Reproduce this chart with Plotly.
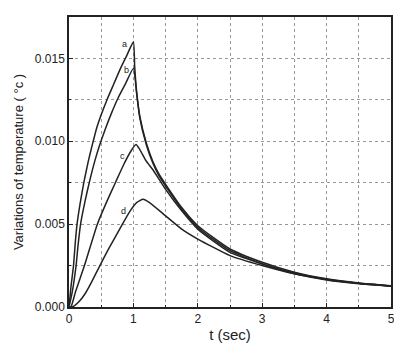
import plotly.graph_objects as go

# Curve a
t_a = [0, 0.03, 0.07, 0.10, 0.125, 0.175, 0.23, 0.30, 0.35, 0.43, 0.50, 0.60, 0.70, 0.80, 0.90, 1.00,
       1.02, 1.05, 1.10, 1.20, 1.30, 1.40, 1.50, 1.75, 2.00, 2.50, 3.00, 3.50, 4.00, 4.50, 5.00]
v_a = [0, 0.0012, 0.0025, 0.0040, 0.0050, 0.0063, 0.0075, 0.0088, 0.0096, 0.0108, 0.0116, 0.0126, 0.0135, 0.0144, 0.0152, 0.0160,
       0.0145, 0.0130, 0.0115, 0.0099, 0.0088, 0.0080, 0.0074, 0.0060, 0.0049, 0.0035, 0.0027, 0.0021, 0.0017, 0.00145, 0.00128]

# Curve b
t_b = [0, 0.05, 0.11, 0.14, 0.18, 0.25, 0.32, 0.40, 0.47, 0.56, 0.66, 0.76, 0.88, 1.00,
       1.05, 1.10, 1.20, 1.30, 1.40, 1.50, 1.75, 2.00, 2.50, 3.00, 3.50, 4.00, 4.50, 5.00]
v_b = [0, 0.0009, 0.0025, 0.0037, 0.0050, 0.0064, 0.0076, 0.0088, 0.0097, 0.0107, 0.0117, 0.0126, 0.0135, 0.0144,
       0.0129, 0.0114, 0.0098, 0.0087, 0.0079, 0.0073, 0.0059, 0.0048, 0.0034, 0.0026, 0.00205, 0.00168, 0.00144, 0.00127]

# Curve c
t_c = [0, 0.03, 0.10, 0.24, 0.44, 0.58, 0.72, 0.85, 0.96, 1.04,
       1.10, 1.20, 1.30, 1.40, 1.50, 1.75, 2.00, 2.50, 3.00, 3.50, 4.00, 4.50, 5.00]
v_c = [0, 0, 0.0009, 0.0025, 0.0050, 0.0063, 0.0075, 0.0086, 0.0094, 0.0098,
       0.0095, 0.0088, 0.0083, 0.0077, 0.0071, 0.0058, 0.0047, 0.0033, 0.0026, 0.0020, 0.00166, 0.00143, 0.00127]

# Curve d
t_d = [0, 0.05, 0.15, 0.25, 0.35, 0.48, 0.60, 0.70, 0.83, 0.95, 1.05, 1.15,
       1.25, 1.50, 1.75, 2.00, 2.50, 3.00, 3.50, 4.00, 4.50, 5.00]
v_d = [0, 0, 0.0003, 0.0008, 0.0015, 0.0025, 0.0034, 0.0041, 0.0050, 0.0058, 0.0063, 0.0065,
       0.0063, 0.0055, 0.0047, 0.0041, 0.0031, 0.0025, 0.0020, 0.00163, 0.00140, 0.00125]

labels = ["a", "b", "c", "d"]
label_t = [0.86, 0.90, 0.83, 0.84]
label_v = [0.0159, 0.0143, 0.0091, 0.0058]

x_ticks = [0, 1, 2, 3, 4, 5]
y_ticks = [0.000, 0.005, 0.010, 0.015]
y_tick_text = ["0.000", "0.005", "0.010", "0.015"]

fig = go.Figure()
for tt, vv in [(t_a, v_a), (t_b, v_b), (t_c, v_c), (t_d, v_d)]:
    fig.add_trace(go.Scatter(x=tt, y=vv, mode="lines",
                             line=dict(color="#222222", width=1.5, shape="spline", smoothing=0.5),
                             showlegend=False, hoverinfo="skip"))

for lab, lt, lv in zip(labels, label_t, label_v):
    fig.add_annotation(x=lt, y=lv, text=lab, showarrow=False,
                       font=dict(size=9, color="#222", family="Liberation Sans, Arial"))

# page body has an 8px default margin, so the figure is sized to fit the 402x355 window
fig.update_layout(
    width=394, height=347,
    margin=dict(l=61, r=9, t=7, b=48),
    paper_bgcolor="white", plot_bgcolor="white",
    font=dict(family="Liberation Sans, Arial, sans-serif", color="#222"),
)
fig.update_xaxes(
    range=[0, 5], tickvals=x_ticks, ticks="inside", ticklen=4, tickcolor="#222",
    showline=True, linecolor="#222", linewidth=1.5, mirror=True,
    showgrid=True, gridcolor="#999", griddash="dot", gridwidth=1,
    minor=dict(dtick=0.5, showgrid=True, gridcolor="#999", griddash="dot", ticks="inside", ticklen=2, tickcolor="#222"),
    zeroline=False, tickfont=dict(size=12),
    title=dict(text="t (sec)", font=dict(size=15), standoff=4),
)
fig.update_yaxes(
    range=[0, 0.0175], tickvals=y_ticks, ticktext=y_tick_text, ticks="inside", ticklen=4, tickcolor="#222",
    showline=True, linecolor="#222", linewidth=1.5, mirror=True,
    showgrid=True, gridcolor="#999", griddash="dot", gridwidth=1,
    minor=dict(dtick=0.0025, showgrid=True, gridcolor="#999", griddash="dot", ticks="inside", ticklen=2, tickcolor="#222"),
    zeroline=False, tickfont=dict(size=12),
    title=dict(text="Variations of temperature ( °c )", font=dict(size=13), standoff=8),
)

fig.write_html("out.html")
